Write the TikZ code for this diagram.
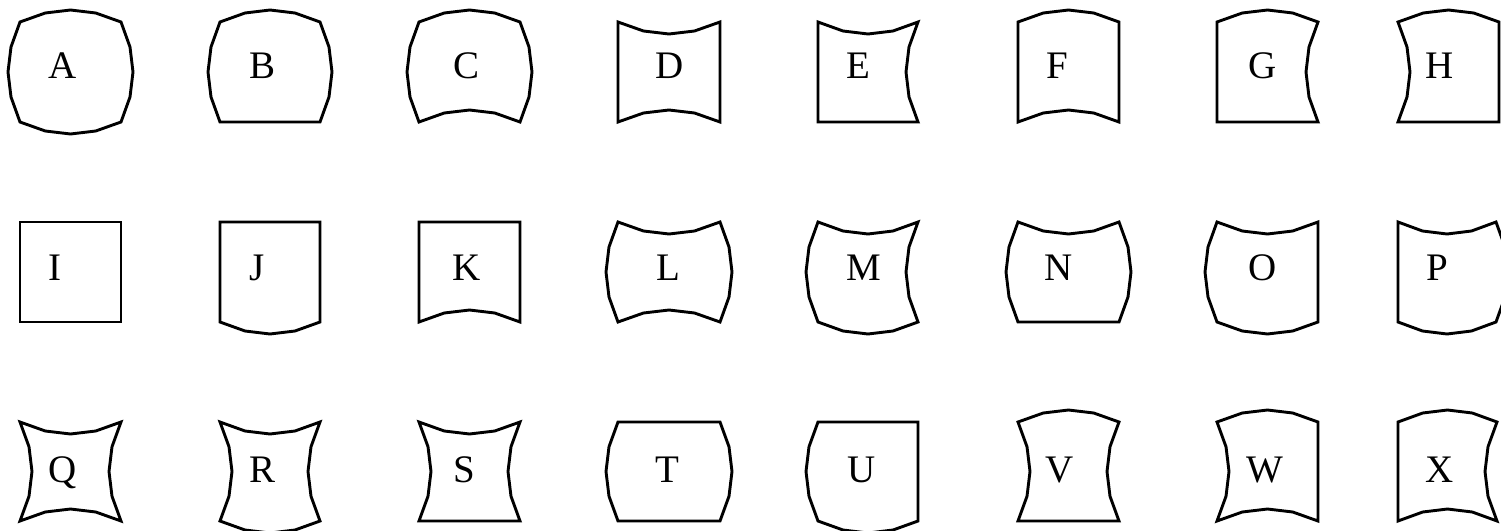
\documentclass[tikz,border=0pt]{standalone}
\usepackage{fontspec}
\setmainfont{Liberation Serif}
\tikzset{
  shapeline/.style={draw=black, line width=2.9pt, line join=miter},
  letter/.style={anchor=base, inner sep=0pt, font=\fontsize{39}{42}\selectfont}
}
% #1=x1 #2=x2 #3=y1 #4=y2 #5=top #6=right #7=bottom #8=left (bulge: + out, - in)
\newcommand\shp[8]{%
\draw[shapeline] (#1,#3)
 -- ({#1+0.25*(#2-#1)},{#3-0.75*(#5)})
 -- ({#1+0.5*(#2-#1)},{#3-(#5)})
 -- ({#1+0.75*(#2-#1)},{#3-0.75*(#5)})
 -- (#2,#3)
 -- ({#2+0.75*(#6)},{#3+0.25*(#4-#3)})
 -- ({#2+(#6)},{#3+0.5*(#4-#3)})
 -- ({#2+0.75*(#6)},{#3+0.75*(#4-#3)})
 -- (#2,#4)
 -- ({#2-0.25*(#2-#1)},{#4+0.75*(#7)})
 -- ({#2-0.5*(#2-#1)},{#4+(#7)})
 -- ({#2-0.75*(#2-#1)},{#4+0.75*(#7)})
 -- (#1,#4)
 -- ({#1-0.75*(#8)},{#4-0.25*(#4-#3)})
 -- ({#1-(#8)},{#4-0.5*(#4-#3)})
 -- ({#1-0.75*(#8)},{#4-0.75*(#4-#3)})
 -- cycle;}
\begin{document}
\begin{tikzpicture}[x=1pt,y=-1pt]
\useasboundingbox (0,0) rectangle (1501,530);
% row 1
\shp{20}{121}{22}{122}{12}{12}{12}{12}
\shp{220}{320}{22}{122}{12}{12}{0}{12}
\shp{419}{520}{22}{122}{12}{12}{-12}{12}
\shp{618}{720}{22}{122}{-12}{0}{-12}{0}
\shp{818}{918}{22}{122}{-12}{-12}{0}{0}
\shp{1018}{1119}{22}{122}{12}{0}{-12}{0}
\shp{1217}{1318}{22}{122}{12}{-12}{0}{0}
\shp{1398}{1499}{22}{122}{12}{0}{0}{-12}
% row 2
\shp{20}{121}{222}{322}{0}{0}{0}{0}
\shp{220}{320}{222}{322}{0}{0}{12}{0}
\shp{419}{520}{222}{322}{0}{0}{-12}{0}
\shp{618}{720}{222}{322}{-12}{12}{-12}{12}
\shp{818}{918}{222}{322}{-12}{-12}{12}{12}
\shp{1018}{1119}{222}{322}{-12}{12}{0}{12}
\shp{1217}{1318}{222}{322}{-12}{0}{12}{12}
\shp{1398}{1496}{222}{322}{-12}{12}{12}{0}
% row 3
\shp{20}{121}{422}{521}{-12}{-12}{-12}{-12}
\shp{220}{320}{422}{521}{-12}{-12}{12}{-12}
\shp{419}{520}{422}{521}{-12}{-12}{0}{-12}
\shp{618}{720}{422}{521}{0}{12}{0}{12}
\shp{818}{918}{422}{521}{0}{0}{12}{12}
\shp{1018}{1119}{422}{521}{12}{-12}{0}{-12}
\shp{1217}{1318}{422}{521}{12}{0}{-12}{-12}
\shp{1398}{1497}{422}{521}{12}{-12}{-12}{0}
% labels
\node[letter] (lA) at (62.7,78) {A};
\node[letter] (lB) at (263,78) {B};
\node[letter] (lC) at (466,78) {C};
\node[letter] (lD) at (670,78) {D};
\node[letter] (lE) at (858,78) {E};
\node[letter] (lF) at (1057,78) {F};
\node[letter] (lG) at (1263,78) {G};
\node[letter] (lH) at (1440,78) {H};
\node[letter] (lI) at (55,280) {I};
\node[letter] (lJ) at (257,280) {J};
\node[letter] (lK) at (467,280) {K};
\node[letter] (lL) at (668,280) {L};
\node[letter] (lM) at (864,280) {M};
\node[letter] (lN) at (1059,280) {N};
\node[letter] (lO) at (1263,280) {O};
\node[letter] (lP) at (1437,280) {P};
\node[letter] (lQ) at (63,482) {Q};
\node[letter] (lR) at (263,482) {R};
\node[letter] (lS) at (464,482) {S};
\node[letter] (lT) at (667,482) {T};
\node[letter] (lU) at (862,482) {U};
\node[letter] (lV) at (1060,482) {V};
\node[letter] (lW) at (1265,482) {W};
\node[letter] (lX) at (1440,482) {X};
\end{tikzpicture}
\end{document}
